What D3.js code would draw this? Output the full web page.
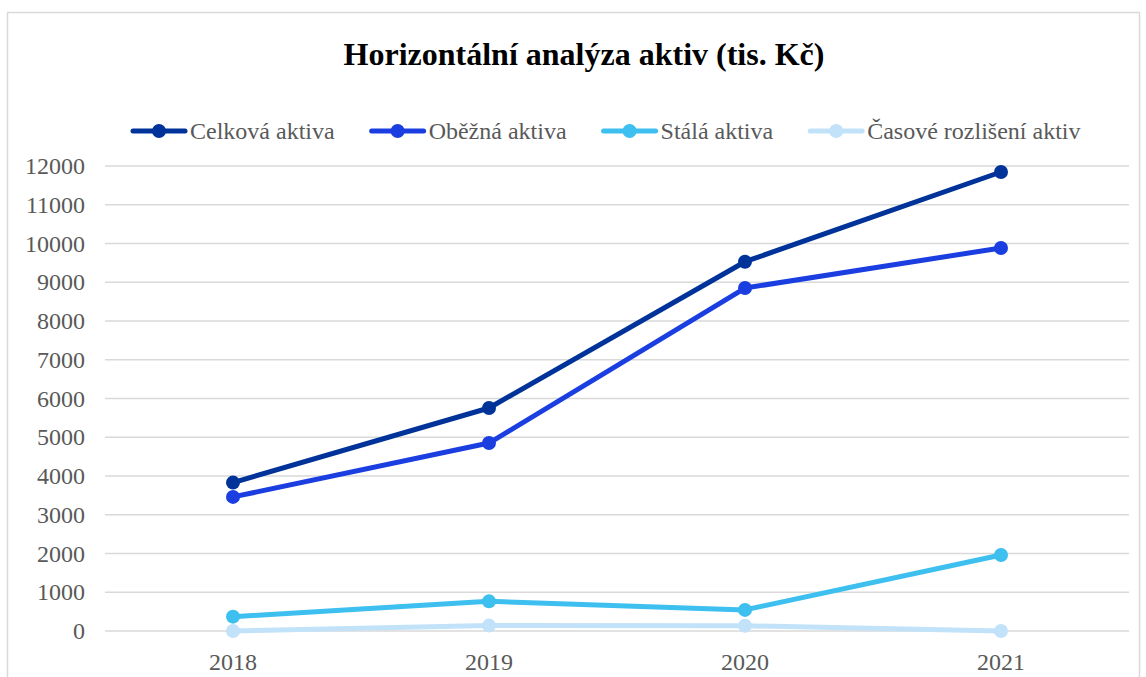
<!DOCTYPE html>
<html>
<head>
<meta charset="utf-8">
<title>Horizontální analýza aktiv</title>
<style>
  body { margin: 0; background: #fff; }
</style>
</head>
<body>
<div id="chart"></div>
<script src="https://cdnjs.cloudflare.com/ajax/libs/d3/7.8.5/d3.min.js"></script>
<script>
// data (tis. Kč)
var years = ["2018", "2019", "2020", "2021"];
var seriesNames = ["Celková aktiva", "Oběžná aktiva", "Stálá aktiva", "Časové rozlišení aktiv"];
var celkova = [3830, 5755, 9530, 11845];
var obezna = [3460, 4850, 8850, 9885];
var stala = [370, 765, 545, 1960];
var casove = [0, 140, 135, 0];
var yTicks = [0, 1000, 2000, 3000, 4000, 5000, 6000, 7000, 8000, 9000, 10000, 11000, 12000];
var colors = ["#003399", "#1a3ee0", "#3dbfef", "#c2e2fa"];

var allSeries = [celkova, obezna, stala, casove];
var FONT = "'Liberation Serif', 'Times New Roman', 'DejaVu Serif', serif";

var W = 1146, H = 677;
var svg = d3.select("#chart").append("svg").attr("width", W).attr("height", H)
   .attr("font-family", FONT);

// chart border
svg.append("rect").attr("x", 7.5).attr("y", 12.5).attr("width", 1132).attr("height", 700)
   .attr("fill", "none").attr("stroke", "#d9d9d9").attr("stroke-width", 1.5);

// title
svg.append("text").attr("x", 584).attr("y", 65).attr("text-anchor", "middle")
   .attr("font-size", 32).attr("font-weight", "bold").attr("fill", "#000")
   .text("Horizontální analýza aktiv (tis. Kč)");

var x = d3.scaleBand().domain(years).range([105, 1129]);
var y = d3.scaleLinear().domain([0, 12000]).range([631, 166]);

// gridlines
svg.append("g").selectAll("line").data(yTicks).enter().append("line")
   .attr("x1", 105).attr("x2", 1129)
   .attr("y1", function(d) { return y(d); }).attr("y2", function(d) { return y(d); })
   .attr("stroke", "#d9d9d9").attr("stroke-width", 1.5);

// y labels
svg.append("g").selectAll("text").data(yTicks).enter().append("text")
   .attr("x", 85).attr("y", function(d) { return y(d) + 8; })
   .attr("text-anchor", "end").attr("font-size", 24).attr("fill", "#595959")
   .text(function(d) { return d; });

// x labels
svg.append("g").selectAll("text").data(years).enter().append("text")
   .attr("x", function(d) { return x(d) + x.bandwidth() / 2; }).attr("y", 670)
   .attr("text-anchor", "middle").attr("font-size", 24).attr("fill", "#595959")
   .text(function(d) { return d; });

var line = d3.line()
   .x(function(d, i) { return x(years[i]) + x.bandwidth() / 2; })
   .y(function(d) { return y(d); });

// draw from lightest (bottom) to darkest so dark lines sit on top
for (var s = allSeries.length - 1; s >= 0; s--) {
  var g = svg.append("g");
  g.append("path").datum(allSeries[s]).attr("d", line)
   .attr("fill", "none").attr("stroke", colors[s]).attr("stroke-width", 5)
   .attr("stroke-linejoin", "round").attr("stroke-linecap", "round");
  g.selectAll("circle").data(allSeries[s]).enter().append("circle")
   .attr("cx", function(d, i) { return x(years[i]) + x.bandwidth() / 2; })
   .attr("cy", function(d) { return y(d); })
   .attr("r", 7).attr("fill", colors[s]);
}

// legend
var legend = svg.append("g");
var lx = 133;
seriesNames.forEach(function(name, i) {
  var item = legend.append("g");
  item.append("line").attr("x1", lx).attr("x2", lx + 52).attr("y1", 131).attr("y2", 131)
      .attr("stroke", colors[i]).attr("stroke-width", 5).attr("stroke-linecap", "round");
  item.append("circle").attr("cx", lx + 26).attr("cy", 131).attr("r", 7).attr("fill", colors[i]);
  var t = item.append("text").attr("x", lx + 57).attr("y", 139)
      .attr("font-size", 24).attr("fill", "#595959").text(name);
  lx = lx + 57 + t.node().getComputedTextLength() + 37;
});
</script>
</body>
</html>
